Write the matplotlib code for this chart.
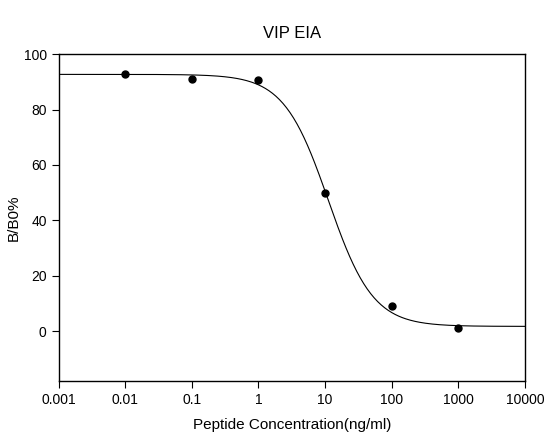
import numpy as np
import matplotlib
matplotlib.use('Agg')
from matplotlib import pyplot as plt
from matplotlib.ticker import FixedLocator, NullLocator

# measured points
conc = [0.01, 0.1, 1, 10, 100, 1000]
b_b0 = [92.7, 91.2, 90.7, 50.0, 8.9, 1.0]

# four parameter logistic fit
top = 92.7
bottom = 1.7
ec50 = 11.2
hill = 1.3

x_ticks = [0.001, 0.01, 0.1, 1, 10, 100, 1000, 10000]
x_labels = ['0.001', '0.01', '0.1', '1', '10', '100', '1000', '10000']
y_ticks = [0, 20, 40, 60, 80, 100]


def logistic4(x, top, bottom, ec50, hill):
    return bottom + (top - bottom) / (1 + (x / ec50) ** hill)


plt.rcParams['font.family'] = ['Liberation Sans', 'DejaVu Sans']

fig = plt.figure(figsize=(5.6, 4.44), dpi=100)
ax = fig.add_axes([0.1045, 0.142, 0.833, 0.736])

xs = np.logspace(np.log10(x_ticks[0]), np.log10(x_ticks[-1]), 400)
ax.plot(xs, logistic4(xs, top, bottom, ec50, hill), color='black', lw=0.8)
ax.plot(conc, b_b0, 'o', color='black', markersize=5)

ax.set_xscale('log')
ax.set_xlim(x_ticks[0], x_ticks[-1])
ax.set_ylim(-18, 100)
ax.xaxis.set_major_locator(FixedLocator(x_ticks))
ax.set_xticklabels(x_labels)
ax.xaxis.set_minor_locator(NullLocator())
ax.set_yticks(y_ticks)

ax.tick_params(direction='out', length=5, width=0.8, labelsize=10, top=False, right=False)
for s in ax.spines.values():
    s.set_linewidth(1.0)

ax.set_title('VIP EIA', fontsize=12, pad=12)
ax.set_xlabel('Peptide Concentration(ng/ml)', fontsize=11, labelpad=8)
ax.set_ylabel('B/B0%', fontsize=11, labelpad=2)

fig.savefig('out.png', dpi=100)
